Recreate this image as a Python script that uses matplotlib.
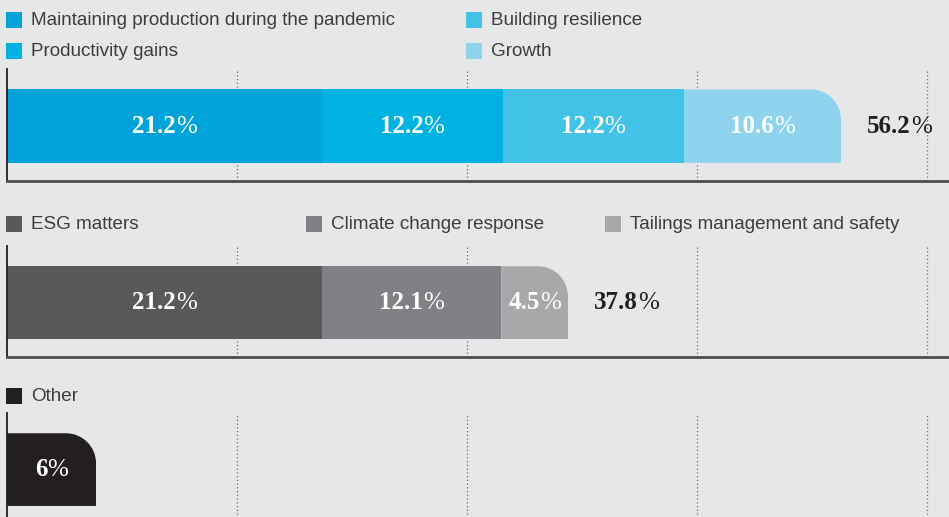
import matplotlib
matplotlib.use("Agg")
import matplotlib.pyplot as plt
from matplotlib.patches import Rectangle
from matplotlib.path import Path
from matplotlib.offsetbox import TextArea, HPacker, AnnotationBbox

# data
labels_ops = ["Maintaining production during the pandemic", "Productivity gains",
              "Building resilience", "Growth"]
values_ops = [21.2, 12.2, 12.2, 10.6]
labels_esg = ["ESG matters", "Climate change response", "Tailings management and safety"]
values_esg = [21.2, 12.1, 4.5]
labels_other = ["Other"]
values_other = [6]
grid_ticks = [15.5, 31, 46.5, 62]

# styles
colors_ops = ["#00a3d9", "#00b2e2", "#43c2e8", "#8fd3ef"]
colors_esg = ["#58595b", "#808184", "#a7a8aa"]
colors_other = ["#231f20"]
BG = "#e6e7e8"
W, H = 949, 517

fig = plt.figure(figsize=(W / 100, H / 100), dpi=100, facecolor=BG)


def px_rect(top, bottom, left=7, right=W):
    return [left / W, 1 - bottom / H, (right - left) / W, (bottom - top) / H]


def legend_item(x, y, color, text):
    fig.patches.append(Rectangle((x / W, 1 - (y + 16) / H), 16 / W, 16 / H,
                                 transform=fig.transFigure, color=color, lw=0))
    fig.text((x + 25) / W, 1 - (y + 8.5) / H, text, ha="left", va="center",
             fontsize=13.6, family="Liberation Sans", color="#3d3d3f")


def pct_box(value, color, size=18):
    num = TextArea(f"{value:g}", textprops=dict(family="Liberation Serif", weight="bold",
                                               size=size, color=color))
    pct = TextArea("%", textprops=dict(family="Liberation Serif", weight="normal",
                                       size=size, color=color))
    return HPacker(children=[num, pct], pad=0, sep=0, align="baseline")


def round_corner(ax, bar, r_px=30):
    x0, y0 = bar.get_x(), bar.get_y()
    x1, y1 = x0 + bar.get_width(), y0 + bar.get_height()
    bb = ax.bbox
    xl, yl = ax.get_xlim(), ax.get_ylim()
    rx = r_px / (bb.width / (xl[1] - xl[0]))
    ry = r_px / (bb.height / (yl[1] - yl[0]))
    k = 0.5523
    verts = [(x0, y0), (x1, y0), (x1, y1 - ry), (x1, y1 - ry + k * ry),
             (x1 - rx + k * rx, y1), (x1 - rx, y1), (x0, y1), (x0, y0)]
    codes = [Path.MOVETO, Path.LINETO, Path.LINETO, Path.CURVE4, Path.CURVE4,
             Path.CURVE4, Path.LINETO, Path.CLOSEPOLY]
    bar.set_clip_path(Path(verts, codes), ax.transData)


panels = [
    (69, 181, values_ops, colors_ops, labels_ops,
     [(6, 12), (6, 43), (466, 12), (466, 43)], True),
    (246, 357, values_esg, colors_esg, labels_esg,
     [(6, 216), (306, 216), (605, 216)], True),
    (413, 524, values_other, colors_other, labels_other,
     [(6, 388)], False),
]

for top, bottom, vals, cols, labs, leg_pos, show_total in panels:
    ax = fig.add_axes(px_rect(top, bottom))
    ax.set_facecolor("none")
    ax.set_xlim(0, 63.48)
    ax.set_ylim(0, 1)
    ax.set_xticks(grid_ticks)
    ax.set_yticks([])
    ax.tick_params(axis="x", length=0, labelbottom=False)
    ax.grid(axis="x", linestyle=(0, (1, 2)), color="#6d6e70", lw=0.9)
    ax.set_axisbelow(True)
    for s in ["top", "right"]:
        ax.spines[s].set_visible(False)
    ax.spines["left"].set_color("#231f20")
    ax.spines["left"].set_linewidth(1.3)
    ax.spines["bottom"].set_color("#4d4d4f")
    ax.spines["bottom"].set_linewidth(2)

    yc, h = 0.49, 0.655
    left = 0
    bars = []
    for v, c in zip(vals, cols):
        b = ax.barh(yc, v, left=left, height=h, color=c, lw=0, zorder=2)[0]
        bars.append(b)
        ab = AnnotationBbox(pct_box(v, "white"), (left + v / 2, yc), frameon=False,
                            box_alignment=(0.5, 0.5), pad=0, zorder=3)
        ax.add_artist(ab)
        left += v
    round_corner(ax, bars[-1])

    if show_total:
        total = round(sum(vals), 1)
        ab = AnnotationBbox(pct_box(total, "#231f20"), (total, yc), xybox=(19, 0),
                            boxcoords="offset points", frameon=False,
                            box_alignment=(0, 0.5), pad=0, annotation_clip=False)
        ax.add_artist(ab)

    for (x, y), c, t in zip(leg_pos, cols, labs):
        legend_item(x, y, c, t)

fig.savefig("out.png", dpi=100, facecolor=BG)
